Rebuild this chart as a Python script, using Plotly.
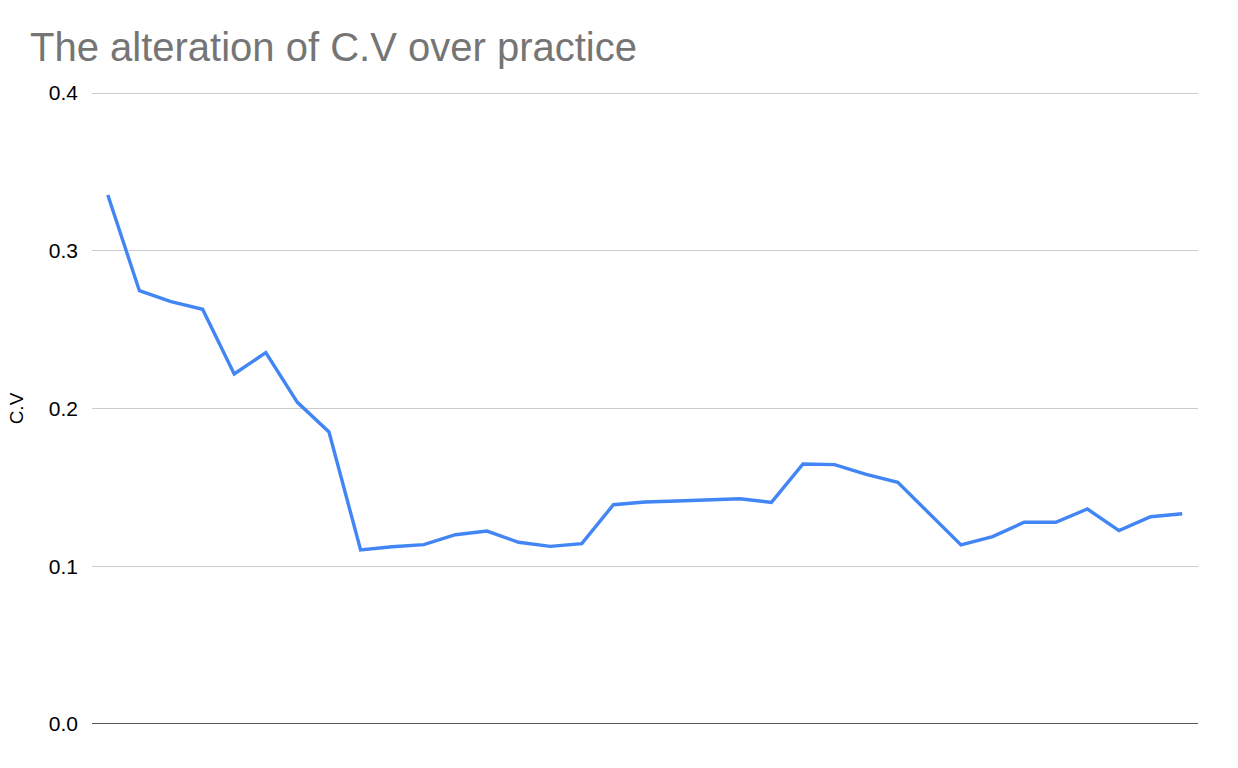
import plotly.graph_objects as go

# Practice sessions (categorical, no labels shown)
sessions = list(range(1, 36))
cv_values = [0.3353, 0.2747, 0.2677, 0.2629, 0.2219, 0.2354, 0.2039, 0.1851,
             0.1103, 0.1124, 0.1137, 0.1200, 0.1223, 0.1152, 0.1126, 0.1143,
             0.1390, 0.1407, 0.1414, 0.1420, 0.1428, 0.1405, 0.1648, 0.1644,
             0.1583, 0.1532, 0.1336, 0.1135, 0.1188, 0.1279, 0.1279, 0.1363,
             0.1226, 0.1314, 0.1333]
y_ticks = [0.0, 0.1, 0.2, 0.3, 0.4]
y_tick_labels = ["0.0", "0.1", "0.2", "0.3", "0.4"]
y_max = 0.4

fig = go.Figure()
fig.add_trace(go.Scatter(
    x=sessions, y=cv_values, mode="lines",
    line=dict(color="#4285F4", width=3.4),
    hoverinfo="x+y", showlegend=False,
))

fig.update_layout(
    width=1238, height=768,
    paper_bgcolor="white", plot_bgcolor="white",
    margin=dict(l=92, r=40, t=93, b=44),
    font=dict(family="Arial, Liberation Sans, sans-serif", color="#000000"),
    title=dict(
        text="The alteration of C.V over practice",
        x=30 / 1238, xanchor="left", xref="container",
        y=1 - 47 / 768, yanchor="middle", yref="container",
        font=dict(size=40, color="#757575", family="Arial, Liberation Sans, sans-serif"),
    ),
    xaxis=dict(
        range=[0.5, 35.5], showticklabels=False, showgrid=False,
        zeroline=False, showline=False, ticks="",
    ),
    yaxis=dict(
        range=[0, y_max], tickvals=y_ticks, ticktext=y_tick_labels,
        showgrid=True, gridcolor="#cccccc", gridwidth=1,
        zeroline=False, showline=False, ticks="",
        tickfont=dict(size=21, color="#000000"), ticklabelstandoff=13,
        title=dict(text="C.V", font=dict(size=19, color="#000000"), standoff=20),
    ),
)

# Top gridline at the range edge (nudged half a pixel inside the plot area)
fig.add_shape(type="line", xref="paper", yref="paper", x0=0, x1=1,
              y0=1 - 0.5 / 631, y1=1 - 0.5 / 631,
              line=dict(color="#cccccc", width=1), layer="below")
# Black baseline at zero
fig.add_shape(type="line", xref="paper", yref="y", x0=0, x1=1, y0=0, y1=0,
              line=dict(color="#222222", width=1.3), layer="above")

fig.write_html("out.html", config={"displayModeBar": False},
               post_script="document.body.style.margin='0';")
